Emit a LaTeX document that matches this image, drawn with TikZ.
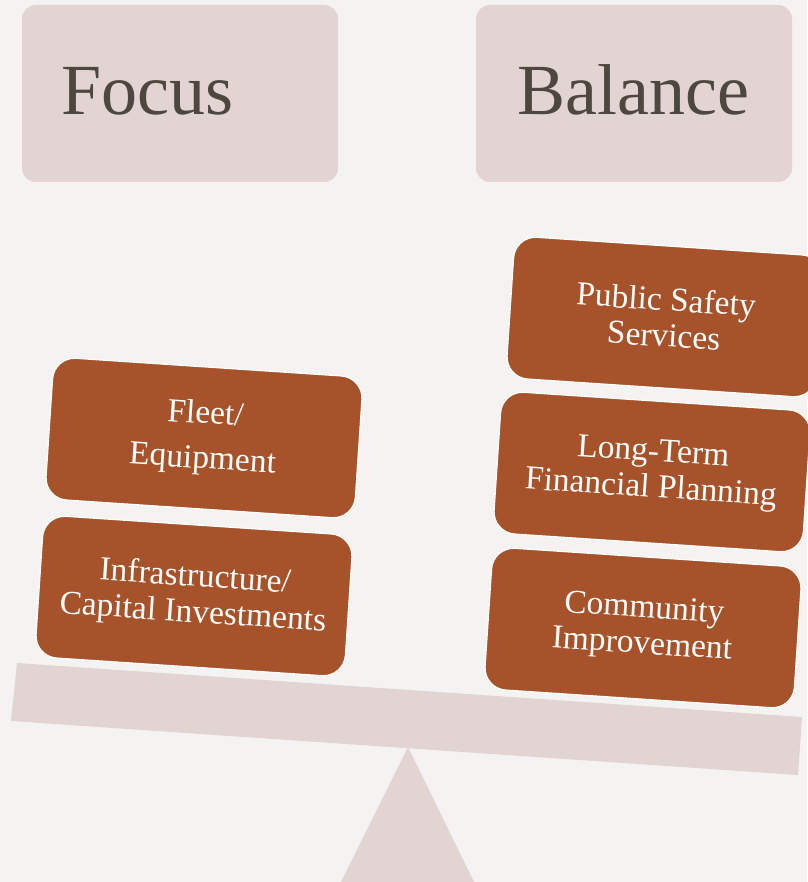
\documentclass[tikz,border=0pt]{standalone}
\usepackage{fontspec}
\setmainfont{Liberation Serif}

\definecolor{paper}{HTML}{F4F3F1}
\definecolor{rosegrey}{HTML}{E2D4D2}
\definecolor{rust}{HTML}{A6522A}
\definecolor{slate}{HTML}{4E4740}

\tikzset{
  headbox/.style={fill=rosegrey, rounded corners=14pt,
    minimum width=316pt, minimum height=177pt},
  headtext/.style={text=slate, font=\fontsize{72}{80}\selectfont},
  itembox/.style={fill=rust, draw=white, line width=1.2pt, rounded corners=22pt,
    minimum width=310pt, minimum height=142pt, rotate=-3.8,
    text=white, align=center, font=\fontsize{33.5}{36}\selectfont},
  scalepart/.style={fill=rosegrey}
}

\begin{document}
\begin{tikzpicture}[x=1pt,y=-1pt]
        \fill[paper] (0,0) rectangle (807,882);
        \useasboundingbox (0,0) rectangle (807,882);

        % the two headings
        \node[headbox] (focusbox) at (180,93.5) {};
        \node[headtext, anchor=base west] (focus) at (58,115) {Focus};

        \node[headbox] (balancebox) at (634,93.5) {};
        \node[headtext, anchor=base west] (balance) at (514,115) {Balance};

        % beam and fulcrum
        \fill[scalepart] (17,663) -- (802,717) -- (798,775) -- (11,721) -- cycle;
        \fill[scalepart] (408,747) -- (475,884) -- (340,884) -- cycle;

        % left pan
        \node[itembox] (fleet) at (204,438) {Fleet/\\[9pt]Equipment};
        \node[itembox] (infra) at (194,596) {Infrastructure/\\Capital Investments};

        % right pan
        \node[itembox] (safety) at (665,317) {Public Safety\\Services};
        \node[itembox] (longterm) at (652,472) {Long-Term\\Financial Planning};
        \node[itembox] (community) at (643,628) {Community\\Improvement};
    \end{tikzpicture}
\end{document}
